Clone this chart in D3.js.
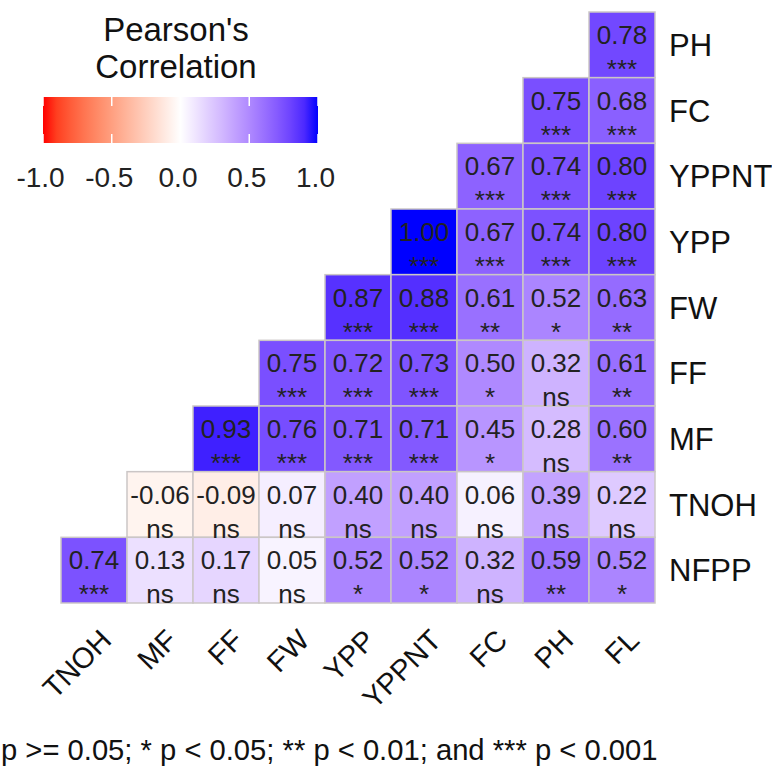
<!DOCTYPE html>
<html>
<head>
<meta charset="utf-8">
<script src="https://d3js.org/d3.v7.min.js"></script>
<style>
    body { margin: 0; background: #fff; }
    text { font-family: "Liberation Sans", Arial, sans-serif; }
</style>
</head>
<body>
<svg id="drawing_region"></svg>
<script>
// variables on the x axis (left to right) and y axis (top to bottom)
const xVars = ["TNOH", "MF", "FF", "FW", "YPP", "YPPNT", "FC", "PH", "FL"];
const yVars = ["PH", "FC", "YPPNT", "YPP", "FW", "FF", "MF", "TNOH", "NFPP"];

// correlation values, one row per yVars entry, null = empty cell
const corrValues = [
    [null, null, null, null, null, null, null, null, 0.78],
    [null, null, null, null, null, null, null, 0.75, 0.68],
    [null, null, null, null, null, null, 0.67, 0.74, 0.80],
    [null, null, null, null, null, 1.00, 0.67, 0.74, 0.80],
    [null, null, null, null, 0.87, 0.88, 0.61, 0.52, 0.63],
    [null, null, null, 0.75, 0.72, 0.73, 0.50, 0.32, 0.61],
    [null, null, 0.93, 0.76, 0.71, 0.71, 0.45, 0.28, 0.60],
    [null, -0.06, -0.09, 0.07, 0.40, 0.40, 0.06, 0.39, 0.22],
    [0.74, 0.13, 0.17, 0.05, 0.52, 0.52, 0.32, 0.59, 0.52]
];

// significance labels, same layout
const sigLabels = [
    [null, null, null, null, null, null, null, null, "***"],
    [null, null, null, null, null, null, null, "***", "***"],
    [null, null, null, null, null, null, "***", "***", "***"],
    [null, null, null, null, null, "***", "***", "***", "***"],
    [null, null, null, null, "***", "***", "**", "*", "**"],
    [null, null, null, "***", "***", "***", "*", "ns", "**"],
    [null, null, "***", "***", "***", "***", "*", "ns", "**"],
    [null, "ns", "ns", "ns", "ns", "ns", "ns", "ns", "ns"],
    ["***", "ns", "ns", "ns", "*", "*", "ns", "**", "*"]
];

const legendTicks = [-1, -0.5, 0, 0.5, 1];
const legendTitle = ["Pearson's", "Correlation"];
const footnote = "p >= 0.05; * p < 0.05; ** p < 0.01; and *** p < 0.001";

class CorrPlot {

    constructor( config ) {
        this.config = config;
        this.data = [];
        yVars.forEach( (r, i) => {
            xVars.forEach( (c, j) => {
                if ( corrValues[i][j] !== null )
                    this.data.push({ row: r, col: c, value: corrValues[i][j], sig: sigLabels[i][j] });
            });
        });
        this.init();
    }

    init() {
        let self = this;

        self.svg = d3.select( self.config.parent )
            .attr('width', self.config.width)
            .attr('height', self.config.height);

        self.xscale = d3.scaleBand()
            .domain( xVars )
            .range( [61, 655] );

        self.yscale = d3.scaleBand()
            .domain( yVars )
            .range( [12, 603] );

        self.color = d3.scaleLinear()
            .domain( [-1, 0, 1] )
            .range( ["#ff0000", "#ffffff", "#0000ff"] )
            .interpolate( d3.interpolateLab );

        self.legendScale = d3.scaleLinear()
            .domain( [-1, 1] )
            .range( [43, 318] );
    }

    render() {
        let self = this;
        const bw = self.xscale.bandwidth();
        const bh = self.yscale.bandwidth();

        // tiles
        self.svg.append('g').selectAll('rect')
            .data( self.data )
            .join('rect')
            .attr('x', d => self.xscale( d.col ))
            .attr('y', d => self.yscale( d.row ))
            .attr('width', bw)
            .attr('height', bh)
            .attr('fill', d => self.color( d.value ))
            .attr('stroke', '#cbc6c6')
            .attr('stroke-width', 1.5);

        // labels in cells
        const labels = self.svg.append('g')
            .attr('fill', '#222')
            .attr('font-size', '26px')
            .attr('text-anchor', 'middle');

        labels.selectAll('text.val')
            .data( self.data )
            .join('text')
            .attr('class', 'val')
            .attr('x', d => self.xscale( d.col ) + bw/2)
            .attr('y', d => self.yscale( d.row ) + 32)
            .text( d => d.value.toFixed(2) );

        labels.selectAll('text.sig')
            .data( self.data )
            .join('text')
            .attr('class', 'sig')
            .attr('x', d => self.xscale( d.col ) + bw/2)
            .attr('y', d => self.yscale( d.row ) + 66)
            .text( d => d.sig );

        // row labels on the right
        self.svg.append('g').selectAll('text')
            .data( yVars )
            .join('text')
            .attr('x', 669)
            .attr('y', d => self.yscale( d ) + bh/2)
            .attr('dy', '0.36em')
            .attr('font-size', '31px')
            .attr('fill', '#111')
            .text( d => d );

        // rotated column labels
        self.svg.append('g').selectAll('text')
            .data( xVars )
            .join('text')
            .attr('transform', d => `translate(${self.xscale( d ) + bw/2 + 19}, 642) rotate(-45)`)
            .attr('text-anchor', 'end')
            .attr('font-size', '29px')
            .attr('fill', '#111')
            .text( d => d );

        // legend
        const legend = self.svg.append('g');

        legend.selectAll('text.title')
            .data( legendTitle )
            .join('text')
            .attr('class', 'title')
            .attr('x', 176)
            .attr('y', (d, i) => 41 + i*37)
            .attr('text-anchor', 'middle')
            .attr('font-size', '33px')
            .attr('fill', '#111')
            .text( d => d );

        const grad = self.svg.append('defs').append('linearGradient')
            .attr('id', 'corr_grad');
        d3.range(0, 1.0001, 0.05).forEach( t => {
            grad.append('stop')
                .attr('offset', t)
                .attr('stop-color', self.color( -1 + 2*t ));
        });

        const [lx0, lx1] = self.legendScale.range();
        legend.append('rect')
            .attr('x', lx0)
            .attr('y', 97)
            .attr('width', lx1 - lx0)
            .attr('height', 46)
            .attr('fill', 'url(#corr_grad)');

        // white tick marks on the bar
        legend.selectAll('line.tk')
            .data( legendTicks.flatMap( t => [[t, 97], [t, 134]] ) )
            .join('line')
            .attr('class', 'tk')
            .attr('x1', d => self.legendScale( d[0] ))
            .attr('x2', d => self.legendScale( d[0] ))
            .attr('y1', d => d[1])
            .attr('y2', d => d[1] + 9)
            .attr('stroke', '#fff')
            .attr('stroke-width', 1.5);

        const laxis = d3.axisBottom( self.legendScale )
            .tickValues( legendTicks )
            .tickFormat( d => d.toFixed(1) )
            .tickSize(0)
            .tickPadding(0);

        const laxisGroup = legend.append('g')
            .attr('transform', 'translate(-3, 167)')
            .call( laxis );
        laxisGroup.select('.domain').remove();
        laxisGroup.selectAll('text')
            .attr('font-family', '"Liberation Sans", Arial, sans-serif')
            .attr('font-size', '28px')
            .attr('fill', '#222');

        // footnote
        self.svg.append('text')
            .attr('x', 1)
            .attr('y', 760)
            .attr('text-anchor', 'start')
            .attr('font-size', '29.2px')
            .attr('fill', '#111')
            .text( footnote );
    }
}

const corr_plot = new CorrPlot({
    parent: '#drawing_region',
    width: 772,
    height: 766
});
corr_plot.render();
</script>
</body>
</html>
